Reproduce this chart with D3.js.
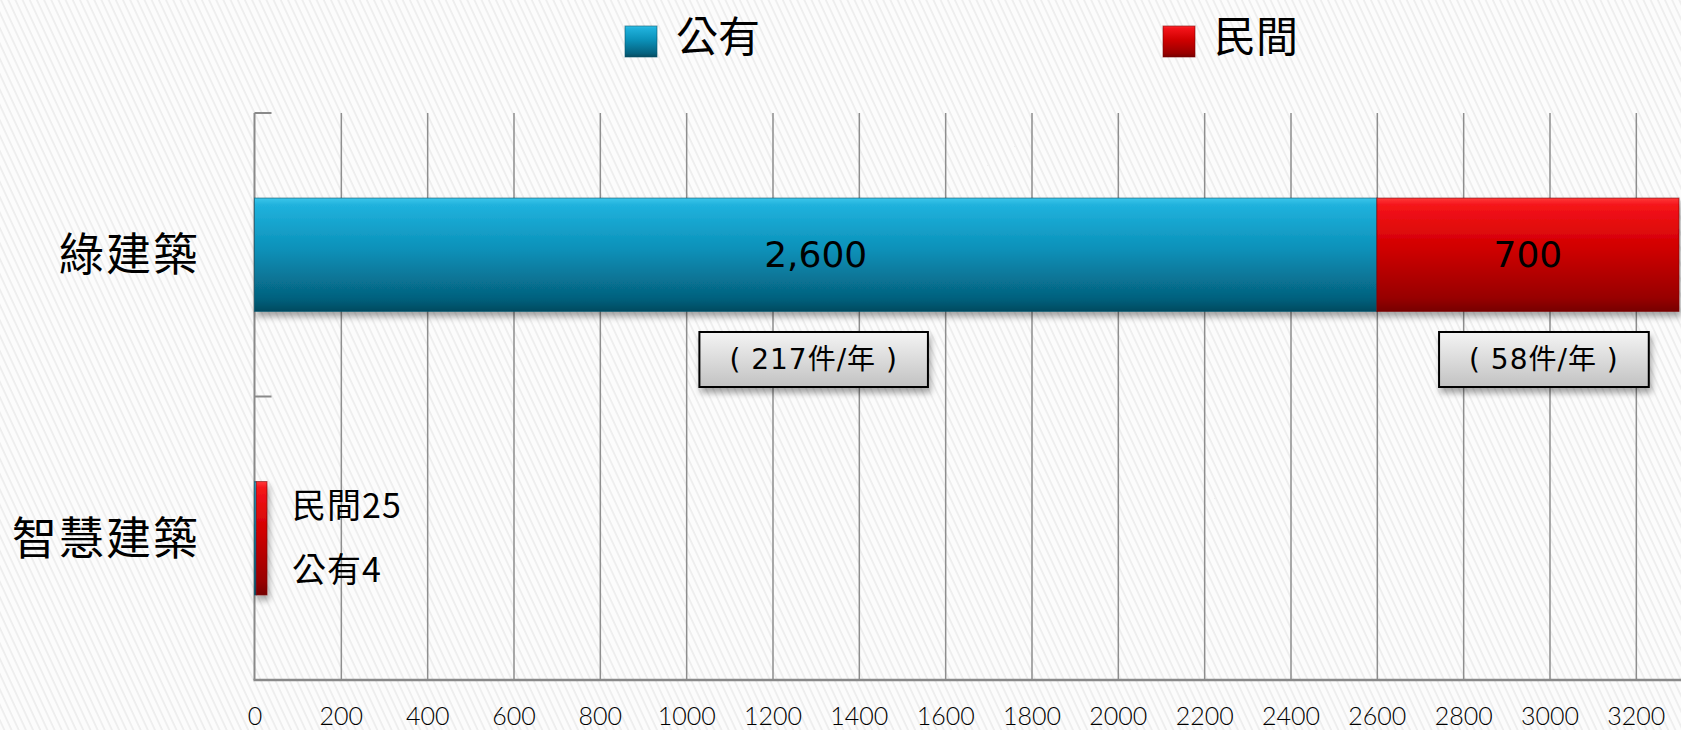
<!DOCTYPE html>
<html>
<head>
<meta charset="utf-8">
<script src="https://cdn.jsdelivr.net/npm/d3@7"></script>
<style>
  html, body { margin: 0; padding: 0; background: #fff; overflow: hidden; }
  svg { display: block; }
  .xaxis text { font-family: Lato, 'DejaVu Sans', sans-serif; font-size: 25px; font-weight: 300; fill: #000; }
</style>
</head>
<body>
<div id="vis"></div>
<script>
// chart data
const categories = ["綠建築", "智慧建築"];
const seriesNames = ["公有", "民間"];
const publicValues = [2600, 4];
const privateValues = [700, 25];
const xTickValues = [0, 200, 400, 600, 800, 1000, 1200, 1400, 1600, 1800, 2000, 2200, 2400, 2600, 2800, 3000, 3200];
const rateLabels = ["( 217件/年 )", "( 58件/年 )"];
const smartLabels = ["民間25", "公有4"];

const width = 1681, height = 730;
const svg = d3.select("#vis").append("svg")
  .attr("width", width)
  .attr("height", height);

const cjk = "'Noto Sans CJK TC', 'Noto Sans CJK SC', sans-serif";
const numFont = "'DejaVu Sans', " + cjk;

const defs = svg.append("defs");

// hatched background
const pat = defs.append("pattern")
  .attr("id", "hatch")
  .attr("width", 6.5).attr("height", 20)
  .attr("patternUnits", "userSpaceOnUse")
  .attr("patternTransform", "rotate(-25)");
pat.append("rect").attr("width", 6.5).attr("height", 20).attr("fill", "#fcfcfc");
pat.append("line").attr("x1", 1).attr("x2", 1).attr("y1", 0).attr("y2", 20)
  .attr("stroke", "#ebebeb").attr("stroke-width", 1.5);

function vGrad(id, stops) {
  const g = defs.append("linearGradient").attr("id", id)
    .attr("x1", 0).attr("x2", 0).attr("y1", 0).attr("y2", 1);
  stops.forEach(s => g.append("stop").attr("offset", s[0]).attr("stop-color", s[1]));
}
vGrad("gradPublic", [["0%", "#3cc6ea"], ["6%", "#20b2dd"], ["45%", "#0b91b9"], ["88%", "#05627f"], ["100%", "#064a5f"]]);
vGrad("gradPrivate", [["0%", "#ff3a3a"], ["6%", "#f5141a"], ["45%", "#cf0000"], ["88%", "#980000"], ["100%", "#760000"]]);
vGrad("gradBox", [["0%", "#f4f4f4"], ["100%", "#c2c2c2"]]);

const shadow = defs.append("filter").attr("id", "shadow")
  .attr("x", "-10%").attr("y", "-20%").attr("width", "130%").attr("height", "160%");
shadow.append("feDropShadow").attr("dx", 2).attr("dy", 5).attr("stdDeviation", 3)
  .attr("flood-color", "#000").attr("flood-opacity", 0.35);

svg.append("rect").attr("width", width).attr("height", height).attr("fill", "url(#hatch)");

// scales
const plotTop = 113, plotBottom = 680;
const x = d3.scaleLinear().domain([0, 3300]).range([254.5, 1679]);
const y = d3.scaleBand().domain(categories).range([plotTop, plotBottom])
  .paddingInner(0.6).paddingOuter(0.3);

// gridlines
svg.append("g").attr("class", "grid")
  .attr("transform", `translate(0,${plotBottom})`)
  .call(d3.axisBottom(x).tickValues(xTickValues.slice(1)).tickSize(-(plotBottom - plotTop)).tickFormat(""))
  .call(g => g.select(".domain").remove())
  .call(g => g.selectAll("line").attr("stroke", "#8e8e8e").attr("stroke-width", 1.5));

// y axis line with inner ticks
const yAxisG = svg.append("g");
yAxisG.append("line").attr("x1", x(0)).attr("x2", x(0)).attr("y1", plotTop).attr("y2", plotBottom)
  .attr("stroke", "#8a8a8a").attr("stroke-width", 2);
const boundaries = [plotTop, plotTop + y.step(), plotBottom];
yAxisG.selectAll(".ytick").data(boundaries).join("line")
  .attr("x1", x(0)).attr("x2", x(0) + 17)
  .attr("y1", d => d).attr("y2", d => d)
  .attr("stroke", "#8a8a8a").attr("stroke-width", 2);

// x axis
const xAxisG = svg.append("g")
  .attr("class", "xaxis")
  .attr("transform", `translate(0,${plotBottom})`)
  .call(d3.axisBottom(x).tickValues(xTickValues).tickSize(0).tickPadding(27).tickFormat(d3.format("d")))
  .attr("font-size", 25)
  .attr("font-family", "Lato, 'DejaVu Sans', sans-serif");
xAxisG.select(".domain").remove();
xAxisG.append("line").attr("x1", x(0) - 1).attr("x2", width).attr("y1", 0).attr("y2", 0)
  .attr("stroke", "#8a8a8a").attr("stroke-width", 2.5);

// category labels
svg.selectAll(".cat").data(categories).join("text")
  .attr("class", "cat")
  .attr("x", 200)
  .attr("y", d => y(d) + y.bandwidth() / 2 - 3)
  .attr("text-anchor", "end")
  .attr("dominant-baseline", "central")
  .style("font-family", cjk)
  .style("font-size", "45px")
  .style("letter-spacing", "2px")
  .text(d => d);

// stacked bars
const rows = categories.map((c, i) => ({ cat: c, pub: publicValues[i], priv: privateValues[i] }));
const segs = [];
rows.forEach(r => {
  segs.push({ cat: r.cat, x0: 0, x1: r.pub, v: r.pub, fill: "url(#gradPublic)", stroke: "#07546c" });
  segs.push({ cat: r.cat, x0: r.pub, x1: r.pub + r.priv, v: r.priv, fill: "url(#gradPrivate)", stroke: "#7a0000" });
});

const barG = svg.append("g").attr("filter", "url(#shadow)");
barG.selectAll("rect").data(segs).join("rect")
  .attr("x", d => x(d.x0))
  .attr("y", d => y(d.cat))
  .attr("width", d => x(d.x1) - x(d.x0))
  .attr("height", y.bandwidth())
  .attr("fill", d => d.fill)
  .attr("stroke", d => d.stroke)
  .attr("stroke-opacity", 0.6)
  .attr("stroke-width", 1);

// value labels inside the first bar
const fmt = d3.format(",");
svg.selectAll(".val").data(segs.filter(d => d.cat === categories[0])).join("text")
  .attr("class", "val")
  .attr("x", d => (x(d.x0) + x(d.x1)) / 2)
  .attr("y", d => y(d.cat) + y.bandwidth() / 2)
  .attr("text-anchor", "middle")
  .attr("dominant-baseline", "central")
  .style("font-family", numFont)
  .style("font-size", "36px")
  .attr("fill", "#000")
  .text(d => fmt(d.v));

// callout boxes under the first bar
const boxOffsets = [-2, 16];
const first = segs.filter(d => d.cat === categories[0]);
first.forEach((d, i) => {
  const cx = (x(d.x0) + x(d.x1)) / 2 + boxOffsets[i];
  const g = svg.append("g");
  const rect = g.append("rect").attr("filter", "url(#shadow)");
  const t = g.append("text")
    .attr("x", cx).attr("y", 359)
    .attr("text-anchor", "middle")
    .attr("dominant-baseline", "central")
    .style("font-family", numFont)
    .style("font-size", "28px")
    .style("letter-spacing", "1px")
    .attr("fill", "#000")
    .text(rateLabels[i]);
  const w = t.node().getComputedTextLength() + 60;
  rect.attr("x", cx - w / 2).attr("y", 332).attr("width", w).attr("height", 55)
    .attr("fill", "url(#gradBox)").attr("stroke", "#000").attr("stroke-width", 2);
});

// labels beside the second bar
const smartRow = rows[1];
const labelX = x(smartRow.pub + smartRow.priv) + 25;
svg.selectAll(".smart").data(smartLabels).join("text")
  .attr("class", "smart")
  .attr("x", labelX)
  .attr("y", (d, i) => y(categories[1]) + 22 + i * 64)
  .attr("dominant-baseline", "central")
  .style("font-family", cjk)
  .style("font-size", "34px")
  .style("letter-spacing", "1px")
  .text(d => d);

// legend
const legendX = [625, 1163];
const legendFill = ["url(#gradPublic)", "url(#gradPrivate)"];
const leg = svg.selectAll(".leg").data(seriesNames).join("g")
  .attr("class", "leg")
  .attr("transform", (d, i) => `translate(${legendX[i]},0)`);
leg.append("rect")
  .attr("x", 0).attr("y", 26).attr("width", 32).attr("height", 31)
  .attr("fill", (d, i) => legendFill[i])
  .attr("stroke", (d, i) => i ? "#7a0000" : "#07546c")
  .attr("stroke-opacity", 0.6);
leg.append("text")
  .attr("x", 51).attr("y", 33)
  .attr("dominant-baseline", "central")
  .style("font-family", cjk)
  .style("font-size", "42px")
  .text(d => d);
</script>
</body>
</html>
